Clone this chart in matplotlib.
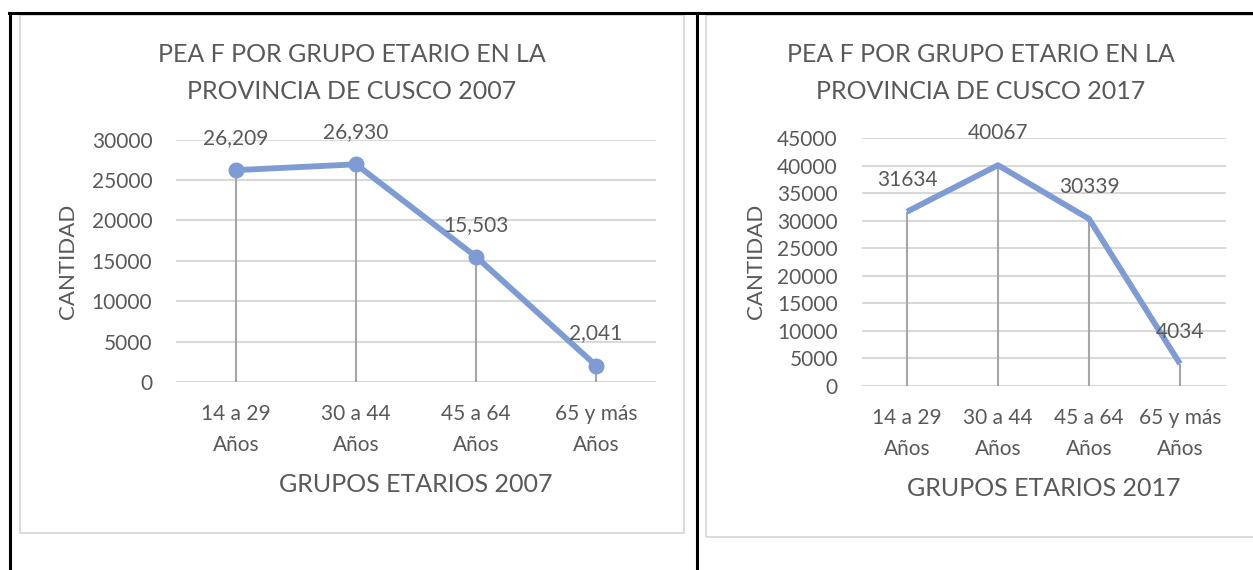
import matplotlib
matplotlib.use("Agg")
import matplotlib.pyplot as plt
from matplotlib.patches import Rectangle
from matplotlib.lines import Line2D

plt.rcParams['font.family'] = ['Lato', 'DejaVu Sans']

# ---- data ----
categories = ["14 a 29\nAños", "30 a 44\nAños", "45 a 64\nAños", "65 y más\nAños"]
values_2007 = [26209, 26930, 15503, 2041]
values_2017 = [31634, 40067, 30339, 4034]
yticks_2007 = [0, 5000, 10000, 15000, 20000, 25000, 30000]
yticks_2017 = [0, 5000, 10000, 15000, 20000, 25000, 30000, 35000, 40000, 45000]
title_2007 = "PEA F POR GRUPO ETARIO EN LA\nPROVINCIA DE CUSCO 2007"
title_2017 = "PEA F POR GRUPO ETARIO EN LA\nPROVINCIA DE CUSCO 2017"
xlabel_2007 = "GRUPOS ETARIOS 2007"
xlabel_2017 = "GRUPOS ETARIOS 2017"
ylabel = "CANTIDAD"

W, H = 1253, 570
DPI = 100
fig = plt.figure(figsize=(W / DPI, H / DPI), dpi=DPI)
fig.patch.set_facecolor("white")

TXT = "#595959"
LINE = "#7F9BD3"
GRID = "#D9D9D9"
DROP = "#A6A6A6"


def fx(px):
    return px / W


def fy(py):
    return 1 - py / H


# table borders (black)
fig.add_artist(Line2D([fx(9), fx(W)], [fy(13), fy(13)], color="black", lw=2.2, transform=fig.transFigure))
fig.add_artist(Line2D([fx(9.5), fx(9.5)], [fy(13), fy(H)], color="black", lw=2.2, transform=fig.transFigure))
fig.add_artist(Line2D([fx(697), fx(697)], [fy(13), fy(H)], color="black", lw=2.2, transform=fig.transFigure))

# chart boxes (light gray)
fig.add_artist(Rectangle((fx(20), fy(533)), fx(684 - 20), (533 - 15) / H, fill=False,
                         ec=GRID, lw=1.3, transform=fig.transFigure))
fig.add_artist(Rectangle((fx(706), fy(537)), fx(1270 - 706), (537 - 15) / H, fill=False,
                         ec=GRID, lw=1.3, transform=fig.transFigure))


def make_chart(ax_rect, values, yticks, title, xlabel, title_cx, xlabel_y, ylabel_x, fmt, markers):
    l, t, r, b = ax_rect
    ax = fig.add_axes([fx(l), fy(b), fx(r - l), (b - t) / H])
    x = list(range(len(values)))
    ax.set_xlim(-0.5, len(values) - 0.5)
    ax.set_ylim(yticks[0], yticks[-1])
    ax.set_yticks(yticks)
    ax.set_yticklabels([str(v) for v in yticks])
    ax.set_xticks(x)
    ax.set_xticklabels(categories, linespacing=1.7)
    ax.tick_params(axis="y", length=0, pad=17, labelsize=15, labelcolor=TXT)
    ax.tick_params(axis="x", length=0, pad=16, labelsize=15, labelcolor=TXT)
    for s in ax.spines.values():
        s.set_visible(False)
    ax.grid(axis="y", color=GRID, lw=1.5)
    ax.set_axisbelow(True)
    ax.patch.set_alpha(0)
    # drop lines
    ax.vlines(x, 0, values, color=DROP, lw=1.5, zorder=2)
    if markers:
        ax.plot(x, values, color=LINE, lw=4.2, marker="o", ms=10.5, zorder=3, solid_capstyle="round")
    else:
        ax.plot(x, values, color=LINE, lw=4.2, zorder=3, solid_capstyle="butt")
    for xi, v in zip(x, values):
        ax.annotate(fmt(v), (xi, v), xytext=(0, 23), textcoords="offset points",
                    ha="center", va="center", fontsize=15, color=TXT, zorder=4)
    fig.text(fx(title_cx), fy(73), title, ha="center", va="center", fontsize=18,
             color=TXT, linespacing=1.72)
    fig.text(fx((l + r) / 2), fy(xlabel_y), xlabel, ha="center", va="center", fontsize=18, color=TXT)
    fig.text(fx(ylabel_x), fy(261), ylabel, ha="center", va="center", fontsize=16, color=TXT,
             rotation=90)
    return ax


make_chart((176, 139.5, 656, 382), values_2007, yticks_2007, title_2007, xlabel_2007,
           352, 485, 68, lambda v: f"{v:,}", True)
make_chart((861.5, 138, 1225.5, 386), values_2017, yticks_2017, title_2017, xlabel_2017,
           981, 488, 756, lambda v: f"{v}", False)

fig.savefig("out.png", dpi=DPI, facecolor="white")
